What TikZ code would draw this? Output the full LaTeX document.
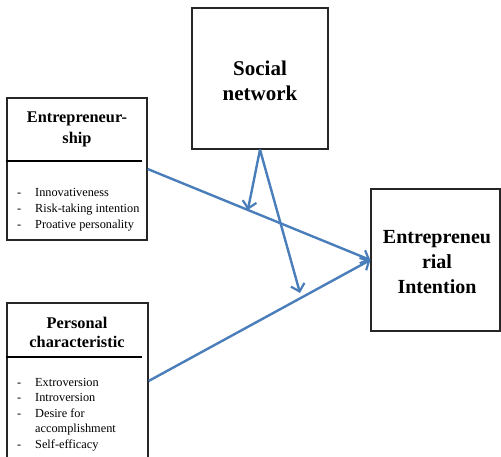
\documentclass[tikz,border=0pt]{standalone}
\usepackage{fontspec}
\setmainfont{Liberation Serif}
\usetikzlibrary{arrows.meta,calc}
\definecolor{arrowblue}{RGB}{74,126,187}
\begin{document}
\begin{tikzpicture}[x=1pt,y=-1pt,
  box/.style={draw=black!85,line width=1.3pt,inner sep=0pt,minimum width=#1},
  divider/.style={line width=1.8pt,black},
  ttl/.style={anchor=base,inner sep=0pt,font=\bfseries\fontsize{16.3}{19}\selectfont},
  bigttl/.style={anchor=base,inner sep=0pt,font=\bfseries\fontsize{20}{24}\selectfont},
  item/.style={anchor=base west,inner sep=0pt,font=\fontsize{12.3}{15}\selectfont},
  link/.style={draw=arrowblue,line width=2.4pt,-{Straight Barb[length=7pt,width=14pt,line width=2.2pt]}}
]
\useasboundingbox (0,0) rectangle (501,457);
\clip (0,0) rectangle (501,457);
\fill[white] (0,0) rectangle (501,457);
% boxes
\node[box=140pt,minimum height=142pt] (ent) at (77,169) {};
\node[box=136pt,minimum height=141pt] (soc) at (260,78.5) {};
\node[box=129pt,minimum height=142pt] (ei) at (435.5,260) {};
\node[box=141pt,minimum height=180pt] (pers) at (77.5,393) {};
% dividers
\draw[divider] (ent.west |- 0,161) -- (142,161);
\draw[divider] (pers.west |- 0,357) -- (142,357);
% titles
\node[ttl] (t1) at (77,123) {Entrepreneur-};
\node[ttl] (t2) at (77,144) {ship};
\node[ttl] (t3) at (77,328) {Personal};
\node[ttl] (t4) at (77,347) {characteristic};
\node[bigttl,font=\bfseries\fontsize{21}{25}\selectfont] (s1) at (260,76) {Social};
\node[bigttl,font=\bfseries\fontsize{21}{25}\selectfont] (s2) at (260,101) {network};
\node[bigttl] (i1) at (437,244) {Entrepreneu};
\node[bigttl] (i2) at (437,269) {rial};
\node[bigttl] (i3) at (437,294) {Intention};
% lists
\node[item] (e1) at (17,197) {\makebox[18pt][l]{-}Innovativeness};
\node[item] (e2) at (17,213) {\makebox[18pt][l]{-}Risk-taking intention};
\node[item] (e3) at (17,229) {\makebox[18pt][l]{-}Proative personality};
\node[item] (p1) at (17,386) {\makebox[18pt][l]{-}Extroversion};
\node[item] (p2) at (17,401) {\makebox[18pt][l]{-}Introversion};
\node[item] (p3) at (17,417) {\makebox[18pt][l]{-}Desire for};
\node[item] (p4) at (17,432) {\makebox[18pt][l]{}accomplishment};
\node[item] (p5) at (17,448) {\makebox[18pt][l]{-}Self-efficacy};
% connectors
\coordinate (pstart) at (pers.east |- 0,381);
\coordinate (m1) at ($(ent.east)!0.45!(ei.west)$);
\coordinate (m2) at (300,293);
\draw[link] (ent.east) -- (ei.west);
\draw[link] (pstart) -- (ei.west);
\draw[link] (soc.south) -- (m1);
\draw[link] (soc.south) -- (m2);
\end{tikzpicture}
\end{document}
